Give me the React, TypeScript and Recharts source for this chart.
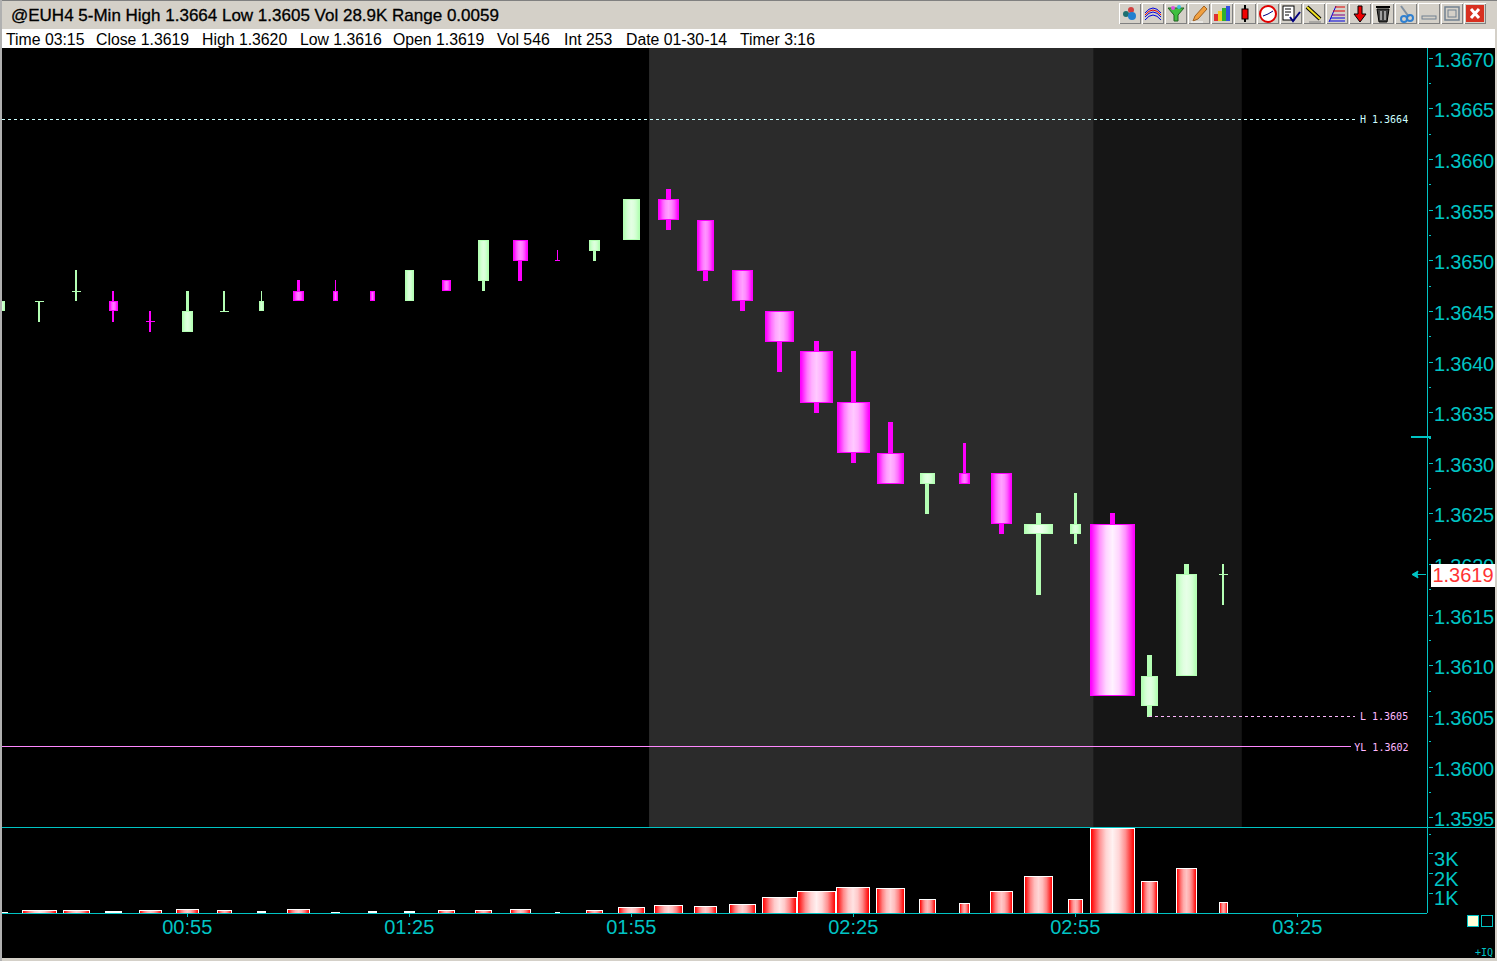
import { Bar, ComposedChart, ReferenceArea, ReferenceLine, XAxis, YAxis } from "recharts"

const times = [
  "00:30", "00:35", "00:40", "00:45", "00:50", "00:55", "01:00", "01:05", "01:10", "01:15", "01:20", "01:25",
  "01:30", "01:35", "01:40", "01:45", "01:50", "01:55", "02:00", "02:05", "02:10", "02:15", "02:20", "02:25",
  "02:30", "02:35", "02:40", "02:45", "02:50", "02:55", "03:00", "03:05", "03:10", "03:15",
]
const opens = [
  1.3645, 1.3646, 1.3647, 1.3646, 1.3644, 1.3643, 1.3645, 1.3645, 1.3647, 1.3647, 1.3647, 1.3646,
  1.3648, 1.3648, 1.3652, 1.365, 1.3651, 1.3652, 1.3656, 1.3654, 1.3649, 1.3645, 1.3641, 1.3636,
  1.3631, 1.3628, 1.3629, 1.3629, 1.3623, 1.3623, 1.3624, 1.3606, 1.3609, 1.3619,
]
const highs = [
  1.3646, 1.3646, 1.3649, 1.3647, 1.3645, 1.3647, 1.3647, 1.3647, 1.3648, 1.3648, 1.3647, 1.3649,
  1.3648, 1.3652, 1.3652, 1.3651, 1.3652, 1.3656, 1.3657, 1.3654, 1.3649, 1.3645, 1.3642, 1.3641,
  1.3634, 1.3629, 1.3632, 1.3629, 1.3625, 1.3627, 1.3625, 1.3611, 1.362, 1.362,
]
const lows = [
  1.3645, 1.3644, 1.3646, 1.3644, 1.3643, 1.3643, 1.3645, 1.3645, 1.3646, 1.3646, 1.3646, 1.3646,
  1.3647, 1.3647, 1.3648, 1.365, 1.365, 1.3652, 1.3653, 1.3648, 1.3645, 1.3639, 1.3635, 1.363,
  1.3628, 1.3625, 1.3628, 1.3623, 1.3617, 1.3622, 1.3607, 1.3605, 1.3609, 1.3616,
]
const closes = [
  1.3646, 1.3646, 1.3647, 1.3645, 1.3644, 1.3645, 1.3645, 1.3646, 1.3646, 1.3646, 1.3646, 1.3649,
  1.3647, 1.3652, 1.365, 1.365, 1.3652, 1.3656, 1.3654, 1.3649, 1.3646, 1.3642, 1.3636, 1.3631,
  1.3628, 1.3629, 1.3628, 1.3624, 1.3624, 1.3624, 1.3607, 1.3609, 1.3619, 1.3619,
]
// dojis have open == close, so direction can't be worked out from price alone
const directions = [
  "up", "up", "up", "down", "down", "up", "up", "up", "down", "down", "down", "up",
  "down", "up", "down", "down", "up", "up", "down", "down", "down", "down", "down", "down",
  "down", "up", "down", "down", "up", "up", "down", "up", "up", "up",
]
// the platform scales bar widths by activity
const bodyWeights = [
  6, 9, 9, 9, 9, 11, 9, 5, 11, 5, 5, 9,
  9, 11, 15, 5, 11, 17, 21, 17, 21, 29, 33, 33,
  27, 15, 11, 21, 29, 11, 45, 17, 21, 9,
]
const volumes = [
  70, 170, 170, 120, 170, 220, 170, 120, 220, 70, 120, 120,
  170, 170, 220, 70, 170, 320, 400, 350, 460, 810, 1120, 1320,
  1270, 710, 510, 1120, 1880, 710, 4300, 1630, 2280, 560,
]
const volumeWeights = [
  11, 35, 27, 17, 23, 23, 15, 9, 23, 9, 9, 11,
  17, 17, 21, 5, 17, 27, 29, 23, 27, 35, 39, 34,
  29, 17, 11, 23, 29, 15, 45, 17, 21, 9,
]

const priceTicks = [
  1.3595, 1.35975, 1.36, 1.36025, 1.3605, 1.36075, 1.361, 1.36125, 1.3615, 1.36175, 1.362, 1.36225, 1.3625, 1.36275,
  1.363, 1.36325, 1.3635, 1.36375, 1.364, 1.36425, 1.3645, 1.36475, 1.365, 1.36525, 1.3655, 1.36575, 1.366, 1.36625,
  1.3665, 1.36675, 1.367,
]
const volumeTicks = [1000, 2000, 3000, 4000]
const timeTicks = ["00:55", "01:25", "01:55", "02:25", "02:55", "03:25"]
const statusItems = [
  "Time 03:15", "Close 1.3619", "High 1.3620", "Low 1.3616", "Open 1.3619", "Vol 546", "Int 253", "Date 01-30-14", "Timer 3:16",
]
const statusLefts = [6, 96, 202, 300, 393, 497, 564, 626, 740]

const cyan = "#00c4c4"
const green = [180, 255, 180]
const magenta = [255, 0, 255]
const red = [255, 0, 0]
const uiFont = "'Liberation Sans', Arial, sans-serif"
const monoFont = "'DejaVu Sans Mono', monospace"

const toMinutes = (time: string) => Number(time.slice(0, 2)) * 60 + Number(time.slice(3))
const toTime = (minutes: number) => `${String(Math.floor(minutes / 60)).padStart(2, "0")}:${String(minutes % 60).padStart(2, "0")}`
const rgb = (c: number[]) => `rgb(${c[0]},${c[1]},${c[2]})`
const tint = (c: number[], amount: number) => rgb(c.map((v) => Math.round(v + (255 - v) * amount)))

const rows = times.map((time, i) => ({
  minute: toMinutes(time),
  open: opens[i],
  high: highs[i],
  low: lows[i],
  close: closes[i],
  direction: directions[i],
  bodyWeight: bodyWeights[i],
  volume: volumes[i],
  volumeWeight: volumeWeights[i],
}))

const xDomain = [29.96, 222.53]

function BarGradient({ id, base, amount }: { id: string; base: number[]; amount: number }) {
  return (
    <linearGradient id={id} x1="0" y1="0" x2="1" y2="0">
      <stop offset="0%" stopColor={rgb(base)} />
      <stop offset="20%" stopColor={tint(base, amount * 0.6)} />
      <stop offset="35%" stopColor={tint(base, amount * 0.88)} />
      <stop offset="50%" stopColor={tint(base, amount)} />
      <stop offset="65%" stopColor={tint(base, amount * 0.88)} />
      <stop offset="80%" stopColor={tint(base, amount * 0.6)} />
      <stop offset="100%" stopColor={rgb(base)} />
    </linearGradient>
  )
}

function CandleShape(props: any) {
  const { x, y, width, height, payload, index } = props
  const center = Math.round(x + width / 2)
  const up = payload.direction === "up"
  const base = up ? green : magenta
  const perPrice = height / (payload.high - payload.low)
  const top = Math.floor(y + (payload.high - Math.max(payload.open, payload.close)) * perPrice)
  const bottom = Math.round(y + (payload.high - Math.min(payload.open, payload.close)) * perPrice)
  const w = payload.bodyWeight
  const wick = Math.min(5, Math.max(1, Math.floor((w - 1) / 3)))
  const amount = up ? 0.4 + 0.4 * Math.min(1, w / 30) : 0.35 + 0.6 * Math.min(1, w / 45)
  const id = `body-${index}`
  const wickTop = Math.floor(y)
  return (
    <g shapeRendering="crispEdges">
      <BarGradient id={id} base={base} amount={amount} />
      <rect x={center - Math.floor(wick / 2)} y={wickTop} width={wick} height={Math.round(y + height) - wickTop} fill={rgb(base)} />
      <rect x={center - Math.floor(w / 2)} y={top} width={w} height={Math.max(1, bottom - top)} fill={rgb(base)} />
      {bottom - top > 2 && (
        <rect x={center - Math.floor(w / 2) + 1} y={top + 1} width={w - 2} height={bottom - top - 2} fill={`url(#${id})`} />
      )}
    </g>
  )
}

function VolumeShape(props: any) {
  const { x, y, width, height, payload, index } = props
  const center = Math.round(x + width / 2)
  const w = payload.volumeWeight
  const left = center - Math.floor(w / 2)
  const top = Math.round(y)
  const h = Math.max(1, Math.round(height))
  const id = `volume-${index}`
  return (
    <g shapeRendering="crispEdges">
      <BarGradient id={id} base={red} amount={0.55 + 0.4 * Math.min(1, w / 40)} />
      <rect x={left} y={top} width={w} height={h} fill="#ffffff" />
      {h > 2 && w > 2 && <rect x={left + 1} y={top + 1} width={w - 2} height={h - 1} fill={`url(#${id})`} />}
    </g>
  )
}

function PriceTick({ x, y, payload }: any) {
  const major = Math.round(payload.value * 100000) % 50 === 0
  return (
    <g>
      <line x1={x} x2={x + (major ? 4 : 2)} y1={y} y2={y} stroke={cyan} shapeRendering="crispEdges" />
      {major && (
        <text x={x + 5} y={y + 8.5} fill={cyan} fontSize={20} letterSpacing={-0.2} fontFamily={uiFont}>
          {payload.value.toFixed(4)}
        </text>
      )}
    </g>
  )
}

function VolumeTick({ x, y, payload }: any) {
  const labelled = payload.value < 4000
  return (
    <g>
      <line x1={x} x2={x + (labelled ? 4 : 2)} y1={y} y2={y} stroke={cyan} shapeRendering="crispEdges" />
      {labelled && (
        <text x={x + 5} y={y + 12} fill={cyan} fontSize={20} fontFamily={uiFont}>
          {payload.value / 1000}K
        </text>
      )}
    </g>
  )
}

function PriceChart() {
  return (
    <ComposedChart width={1493} height={779} data={rows} margin={{ top: 0, right: 0, bottom: 0, left: 0 }}>
      <ReferenceArea x1={117.4} x2={177.5} fill="#2b2b2b" fillOpacity={1} stroke="none" ifOverflow="hidden" />
      <ReferenceArea x1={177.5} x2={197.5} fill="#161616" fillOpacity={1} stroke="none" ifOverflow="hidden" />
      <XAxis dataKey="minute" type="number" domain={xDomain} hide allowDataOverflow />
      <YAxis
        orientation="right"
        width={68}
        domain={[1.35941, 1.3671]}
        ticks={priceTicks}
        interval={0}
        allowDataOverflow
        axisLine={{ stroke: cyan, shapeRendering: "crispEdges" }}
        tickLine={false}
        tickSize={0}
        tick={PriceTick}
      />
      <ReferenceLine
        segment={[{ x: xDomain[0], y: 1.3664 }, { x: 212.8, y: 1.3664 }]}
        stroke="#ccffff"
        strokeDasharray="3 3"
        shapeRendering="crispEdges"
        style={{ transform: "translateY(0.5px)" }}
        label={{ value: "H 1.3664", position: "right", offset: 5, dy: 1, fill: "#ccffff", fontSize: 10, fontFamily: monoFont }}
      />
      <ReferenceLine
        segment={[{ x: 185, y: 1.3605 }, { x: 212.8, y: 1.3605 }]}
        stroke="#ffb8ff"
        strokeDasharray="3 3"
        shapeRendering="crispEdges"
        label={{ value: "L 1.3605", position: "right", offset: 5, fill: "#ffb8ff", fontSize: 10, fontFamily: monoFont }}
      />
      <ReferenceLine
        segment={[{ x: xDomain[0], y: 1.3602 }, { x: 212.3, y: 1.3602 }]}
        stroke="#ff88ff"
        shapeRendering="crispEdges"
        label={{ value: "YL 1.3602", position: "right", offset: 3, fill: "#ffb8ff", fontSize: 10, fontFamily: monoFont }}
      />
      <Bar dataKey={(d: any) => [d.low, d.high]} barSize={10} shape={CandleShape} isAnimationActive={false} />
    </ComposedChart>
  )
}

function VolumeChart() {
  return (
    <ComposedChart width={1493} height={130} data={rows} margin={{ top: 0, right: 0, bottom: 0, left: 0 }}>
      <XAxis
        dataKey="minute"
        type="number"
        domain={xDomain}
        allowDataOverflow
        height={45}
        ticks={timeTicks.map(toMinutes)}
        interval={0}
        tickFormatter={toTime}
        axisLine={{ stroke: cyan, shapeRendering: "crispEdges" }}
        tickLine={{ stroke: cyan, shapeRendering: "crispEdges" }}
        tickSize={4}
        tickMargin={3}
        tick={{ fill: cyan, fontSize: 20, fontFamily: uiFont }}
      />
      <YAxis
        orientation="right"
        width={68}
        domain={[0, 4315]}
        ticks={volumeTicks}
        interval={0}
        allowDataOverflow
        axisLine={{ stroke: cyan, shapeRendering: "crispEdges" }}
        tickLine={false}
        tickSize={0}
        tick={VolumeTick}
      />
      <Bar dataKey="volume" barSize={10} shape={VolumeShape} isAnimationActive={false} />
    </ComposedChart>
  )
}

const toolIcons = [
  <>
    <circle cx="7" cy="11" r="3" fill="#1f6f6f" />
    <circle cx="12" cy="7" r="3" fill="#d04040" />
    <circle cx="13" cy="13" r="4" fill="#2080d0" />
  </>,
  <>
    <path d="M3 10 Q11 0 19 10 M3 14 Q11 4 19 14" fill="none" stroke="#0000e0" />
    <path d="M3 12 Q11 2 19 12" fill="none" stroke="#e00000" />
    <path d="M3 17 Q11 7 19 17" fill="none" stroke="#0000e0" />
  </>,
  <>
    <path d="M3 5 H19 L13 12 V18 H9 V12 Z" fill="#40c040" stroke="#206020" />
    <circle cx="8" cy="5" r="2" fill="#e050e0" />
    <circle cx="14" cy="4" r="2" fill="#40c0e0" />
  </>,
  <>
    <path d="M5 18 L7 13 L16 3 L19 6 L10 16 Z" fill="#f0a040" stroke="#a06020" />
    <path d="M3 19 H15" stroke="#ffffff" />
  </>,
  <>
    <rect x="3" y="11" width="4" height="7" fill="#e03030" />
    <rect x="7" y="8" width="4" height="10" fill="#f0d020" />
    <rect x="11" y="5" width="4" height="13" fill="#30b030" />
    <rect x="15" y="3" width="4" height="15" fill="#3050e0" />
  </>,
  <>
    <path d="M11 2 V19" stroke="#000000" strokeWidth="2" />
    <rect x="8" y="6" width="6" height="10" fill="#f00000" stroke="#000000" />
  </>,
  <>
    <circle cx="11" cy="11" r="8" fill="#ffffff" stroke="#e00000" strokeWidth="2" />
    <path d="M11 11 L6 13 M11 11 L16 8" stroke="#000080" />
  </>,
  <>
    <rect x="3" y="3" width="11" height="14" fill="#ffffff" stroke="#000000" />
    <path d="M5 6 H11 M5 9 H11 M5 12 H9" stroke="#000000" />
    <path d="M10 14 L13 18 L20 9" fill="none" stroke="#000080" strokeWidth="2" />
  </>,
  <>
    <path d="M4 4 L17 16" stroke="#000000" strokeWidth="4" />
    <path d="M4 4 L17 16" stroke="#f0e020" strokeWidth="2" />
    <path d="M6 19 H18" stroke="#808080" />
  </>,
  <>
    <path d="M3 19 L10 3" stroke="#0000e0" />
    <path d="M9 4 H19 M7 8 H19" stroke="#e00000" />
    <path d="M6 12 H19" stroke="#800080" />
    <path d="M5 15 H19 M4 18 H19" stroke="#0000e0" />
  </>,
  <path d="M9 3 H13 V11 H17 L11 19 L5 11 H9 Z" fill="#f00000" stroke="#000000" />,
  <>
    <path d="M5 6 H17 L15 19 H7 Z" fill="#404040" stroke="#000000" />
    <path d="M4 4 H18 M9 8 V17 M13 8 V17" stroke="#ffffff" />
    <path d="M4 4 H18" stroke="#000000" strokeWidth="2" />
  </>,
  <>
    <path d="M6 3 L14 14" stroke="#8090a0" strokeWidth="2" />
    <circle cx="15" cy="15" r="3" fill="none" stroke="#3080d0" strokeWidth="2" />
    <circle cx="9" cy="16" r="3" fill="none" stroke="#3080d0" strokeWidth="2" />
  </>,
  <rect x="4" y="13" width="14" height="3" fill="none" stroke="#708090" />,
  <>
    <rect x="4" y="4" width="14" height="13" fill="none" stroke="#708090" strokeWidth="1.5" />
    <rect x="7" y="7" width="8" height="7" fill="none" stroke="#708090" />
  </>,
  <>
    <rect x="2" y="2" width="18" height="17" fill="#d83020" />
    <path d="M7 6 L15 15 M15 6 L7 15" stroke="#ffffff" strokeWidth="3" />
  </>,
]

function Toolbar() {
  return (
    <>
      {toolIcons.map((icon, i) => (
        <svg
          key={i}
          width={22}
          height={21}
          style={{
            position: "absolute",
            left: 1119 + i * 23,
            top: 3,
            background: "#d4d0c8",
            boxShadow: "inset 1px 1px 0 #ffffff, inset -1px -1px 0 #808080",
          }}
        >
          {icon}
        </svg>
      ))}
    </>
  )
}

const abs = (left: number, top: number, width: number, height: number, background: string) => ({
  position: "absolute" as const,
  left,
  top,
  width,
  height,
  background,
})

export default function App() {
  return (
    <div style={{ position: "relative", width: 1497, height: 961, background: "#d4d0c8", overflow: "hidden" }}>
      <style>{"body{margin:0}"}</style>
      <div style={abs(0, 0, 1497, 1, "#808080")} />
      <div style={abs(0, 0, 2, 961, "#b0b0b0")} />
      <div style={{ position: "absolute", left: 11, top: 6, fontFamily: uiFont, fontSize: 17, color: "#000", whiteSpace: "nowrap", WebkitTextStroke: "0.3px #000" }}>
        @EUH4 5-Min High 1.3664 Low 1.3605 Vol 28.9K Range 0.0059
      </div>
      <Toolbar />
      <div style={abs(2, 29, 1493, 19, "#ffffff")} />
      {statusItems.map((item, i) => (
        <div key={item} style={{ position: "absolute", left: statusLefts[i], top: 31, fontFamily: uiFont, fontSize: 15.8, lineHeight: "18px", color: "#000", whiteSpace: "nowrap" }}>
          {item}
        </div>
      ))}
      <div style={abs(2, 48, 1493, 910, "#000000")} />
      <div style={{ position: "absolute", left: 2, top: 48, width: 1493, height: 779, overflow: "hidden" }}>
        <PriceChart />
      </div>
      <div style={abs(2, 827, 1493, 1, cyan)} />
      <div style={{ position: "absolute", left: 2, top: 828, width: 1493, height: 130, overflow: "hidden" }}>
        <VolumeChart />
      </div>
      <div style={abs(1411, 436, 20, 2, cyan)} />
      <svg width={14} height={9} style={{ position: "absolute", left: 1412, top: 570 }}>
        <path d="M0 4.5 H14 M0 4.5 L6 1 M0 4.5 L6 8 L5 4.5 L6 1" fill={cyan} stroke={cyan} />
      </svg>
      <div style={{ ...abs(1431, 564, 64, 23, "#ffffff"), fontFamily: uiFont, fontSize: 20, lineHeight: "23px", color: "#ff3333", textAlign: "center" }}>
        1.3619
      </div>
      <div style={{ ...abs(1467, 915, 10, 10, "#ffffd8"), border: `1px solid ${cyan}` }} />
      <div style={{ ...abs(1481, 915, 10, 10, "#000000"), border: `1px solid ${cyan}` }} />
      <div style={{ position: "absolute", left: 1475, top: 947, fontFamily: monoFont, fontSize: 10, lineHeight: "11px", color: cyan }}>+IQ</div>
    </div>
  )
}
